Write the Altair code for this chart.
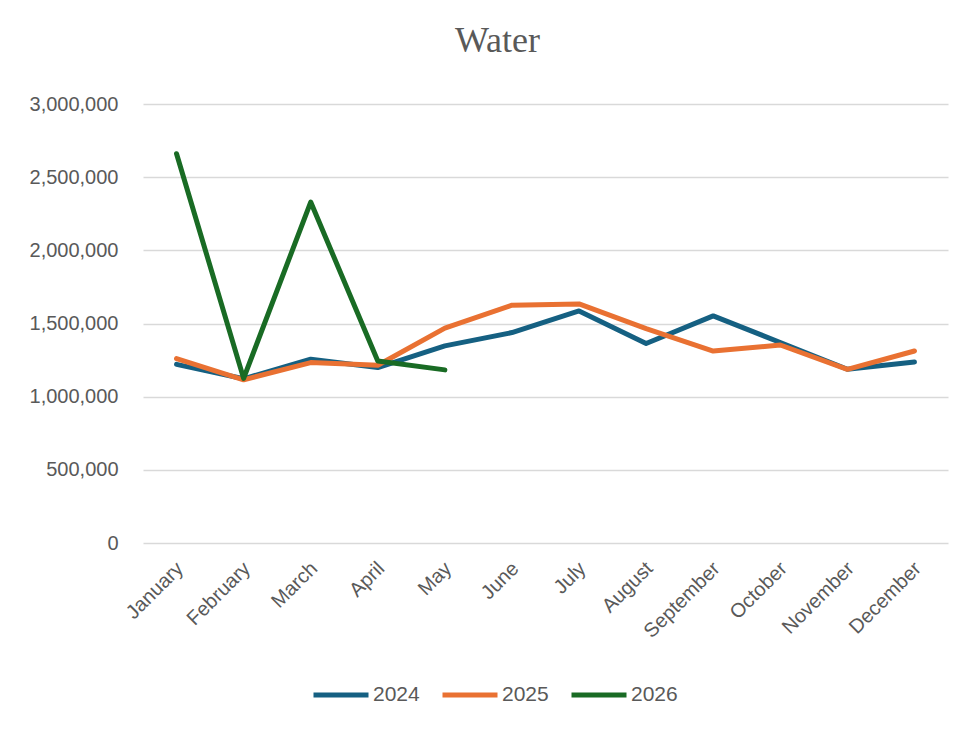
import altair as alt
import pandas as pd

months = ["January", "February", "March", "April", "May", "June", "July",
          "August", "September", "October", "November", "December"]
years = ["2024", "2025", "2026"]
values_2024 = [1221000, 1122000, 1256000, 1199000, 1347000, 1438000, 1586000,
               1363000, 1552000, 1370000, 1187000, 1237000]
values_2025 = [1260000, 1115000, 1233000, 1215000, 1468000, 1625000, 1634000,
               1465000, 1312000, 1353000, 1187000, 1312000]
values_2026 = [2660000, 1125000, 2330000, 1244000, 1183000]
y_ticks = [0, 500000, 1000000, 1500000, 2000000, 2500000, 3000000]
colors = ["#156082", "#E97132", "#196B24"]

rows = []
for yr, vals in zip(years, [values_2024, values_2025, values_2026]):
    for m, v in zip(months, vals):
        rows.append({"Month": m, "Year": yr, "Value": v})
df = pd.DataFrame(rows)

chart = alt.Chart(df).mark_line(
    strokeWidth=5, strokeCap="round", strokeJoin="round"
).encode(
    x=alt.X("Month:N", sort=months, title=None,
            scale=alt.Scale(type="point", padding=0.5),
            axis=alt.Axis(labelAngle=-45, labelAlign="right", labelBaseline="top",
                          labelPadding=15, labelOffset=-4, ticks=False, domain=False,
                          grid=False, labelFontSize=20, labelColor="#595959",
                          labelFont="Liberation Sans")),
    y=alt.Y("Value:Q", title=None,
            scale=alt.Scale(domain=[0, 3000000], nice=False),
            axis=alt.Axis(values=y_ticks, format=",d", ticks=False, domain=False,
                          labelPadding=25, labelFontSize=20, labelColor="#595959",
                          labelFont="Liberation Sans", gridColor="#d9d9d9",
                          gridWidth=1.5)),
    color=alt.Color("Year:N", scale=alt.Scale(domain=years, range=colors),
                    legend=alt.Legend(title=None, orient="none", direction="horizontal",
                                      legendX=168, legendY=561,
                                      symbolType="stroke", symbolSize=3025,
                                      symbolStrokeWidth=5, labelFontSize=21,
                                      labelColor="#595959", labelFont="Liberation Sans",
                                      labelOffset=2, columnPadding=12, padding=0)),
).properties(
    width=805,
    height=439,
    title=alt.TitleParams("Water", font="Liberation Serif", fontSize=36,
                          fontWeight="normal", color="#595959", anchor="middle",
                          dx=-48, offset=34),
    autosize=alt.AutoSizeParams(type="none"),
    padding={"left": 135, "top": 96, "right": 12, "bottom": 180},
).configure(
    background="white",
    view=alt.ViewConfig(stroke="transparent", strokeWidth=0),
)

chart.save("out.html", embed_options={"renderer": "svg", "actions": False})
